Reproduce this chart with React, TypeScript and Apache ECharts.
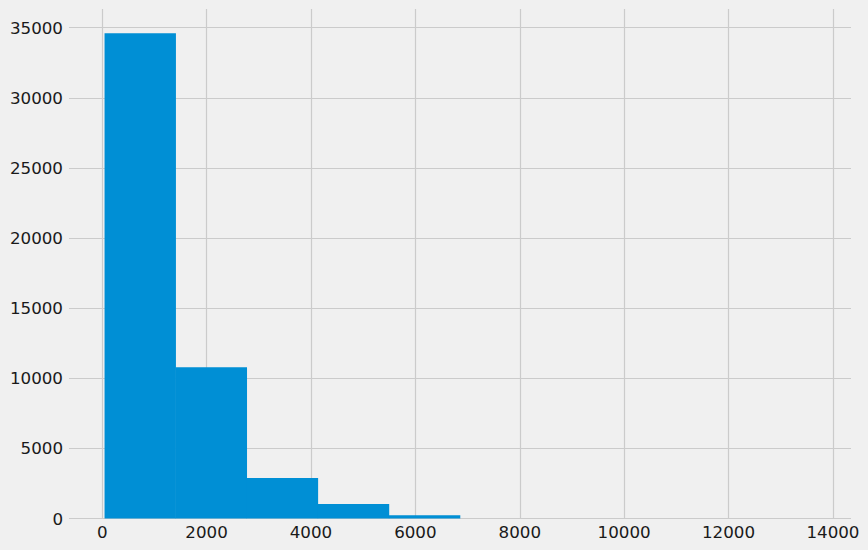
import React, { useEffect, useRef } from "react";
import * as echarts from "echarts";

const binEdges = [45, 1407, 2769, 4131, 5493, 6855, 8217, 9579, 10941, 12303, 13665];
const binCounts = [34600, 10790, 2880, 1030, 230, 6, 3, 2, 1, 1];
const xTicks = [0, 2000, 4000, 6000, 8000, 10000, 12000, 14000];
const yTicks = [0, 5000, 10000, 15000, 20000, 25000, 30000, 35000];

const X_MIN = -636;
const X_MAX = 14346;
const Y_MAX = 36330;

export default function App() {
  const ref = useRef<HTMLDivElement>(null);
  useEffect(() => {
    document.body.style.margin = "0";
    const chart = echarts.init(ref.current!, null, { renderer: "svg" });
    const data = binCounts.map((c, i) => [binEdges[i], binEdges[i + 1], c]);
    const font = "DejaVu Sans";
    const fmt = (v: number) => String(v);
    chart.setOption({
      animation: false,
      backgroundColor: "#f0f0f0",
      grid: { left: 69, right: 17, top: 9, bottom: 31.5, containLabel: false },
      xAxis: {
        type: "value",
        min: X_MIN,
        max: X_MAX,
        axisLine: { show: false },
        axisTick: { show: false, customValues: xTicks },
        axisLabel: {
          customValues: xTicks,
          formatter: fmt,
          color: "#1a1a1a",
          fontFamily: font,
          fontSize: 16.7,
          margin: 5,
        },
        splitLine: { show: true, lineStyle: { color: "#cbcbcb", width: 1.2 } },
      },
      yAxis: {
        type: "value",
        min: 0,
        max: Y_MAX,
        axisLine: { show: false },
        axisTick: { show: false, customValues: yTicks },
        axisLabel: {
          customValues: yTicks,
          formatter: fmt,
          color: "#1a1a1a",
          fontFamily: font,
          fontSize: 16.7,
          margin: 6,
        },
        splitLine: { show: true, lineStyle: { color: "#cbcbcb", width: 1.2 } },
      },
      series: [
        {
          type: "custom",
          data,
          encode: { x: [0, 1], y: 2 },
          renderItem: (params: any, api: any) => {
            const p0 = api.coord([api.value(0), 0]);
            const p1 = api.coord([api.value(1), api.value(2)]);
            return {
              type: "rect",
              shape: { x: p0[0], y: p1[1], width: p1[0] - p0[0] + 0.3, height: p0[1] - p1[1] },
              style: { fill: "#008fd5" },
            };
          },
        },
      ],
    });
    return () => chart.dispose();
  }, []);
  return (
    <div
      ref={ref}
      style={{ position: "absolute", left: 0, top: 0, width: 868, height: 550, background: "#f0f0f0" }}
    />
  );
}
